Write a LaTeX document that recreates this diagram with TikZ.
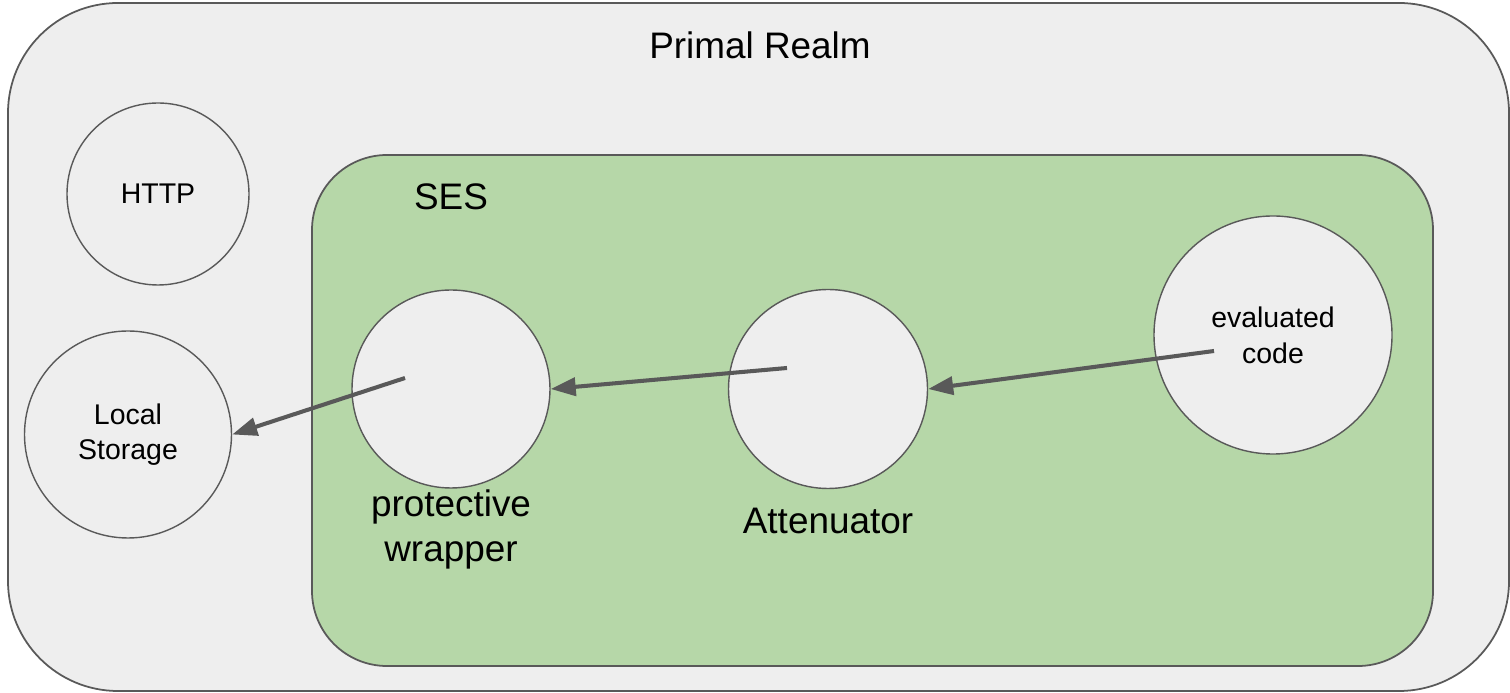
\documentclass[tikz,border=0pt]{standalone}
\usepackage{fontspec}
\setmainfont{Liberation Sans}
\usetikzlibrary{arrows.meta}
\usepackage{xcolor}
\definecolor{realmgray}{HTML}{EEEEEE}
\definecolor{sesgreen}{HTML}{B6D7A8}
\definecolor{edgegray}{HTML}{595959}

\begin{document}
\begin{tikzpicture}[
  realm/.style={draw=edgegray, line width=1pt, fill=realmgray, rounded corners=2.2cm, minimum width=30.02cm, minimum height=13.76cm},
  sandbox/.style={draw=edgegray, line width=1pt, fill=sesgreen, rounded corners=1.5cm, minimum width=22.42cm, minimum height=10.22cm},
  obj/.style={circle, draw=edgegray, line width=0.8pt, fill=realmgray, inner sep=0pt, align=center, font=\fontsize{16.2}{20.3}\selectfont},
  bigtxt/.style={align=center, font=\fontsize{21}{25.6}\selectfont},
  flow/.style={-{Triangle[length=0.5cm, width=0.36cm]}, draw=edgegray, line width=2.3pt}
]
  \useasboundingbox (0,0) rectangle (30.2,13.86);

  \node[realm] (primal) at (15.17,6.92) {};
  \node[bigtxt] (primallbl) at (15.2,12.96) {Primal Realm};
  \node[sandbox] (ses) at (17.45,5.65) {};
  \node[bigtxt] (seslbl) at (9.02,9.92) {SES};

  \node[obj, minimum size=3.64cm] (http) at (3.16,9.98) {HTTP};
  \node[obj, minimum size=4.14cm] (storage) at (2.56,5.17) {Local\\Storage};
  \node[obj, minimum size=3.96cm] (wrapper) at (9.02,6.08) {};
  \node[bigtxt] (wrapperlbl) at (9.02,3.27) {protective\\wrapper};
  \node[obj, minimum size=3.98cm] (atten) at (16.56,6.08) {};
  \node[bigtxt] (attenlbl) at (16.56,3.44) {Attenuator};
  \node[obj, minimum size=4.76cm] (evalcode) at (25.46,7.16) {evaluated\\code};

  \draw[flow] ([shift={(-1.18,-0.32)}]evalcode.center) -- (atten.east);
  \draw[flow] ([shift={(-0.82,0.42)}]atten.center) -- (wrapper.east);
  \draw[flow] ([shift={(-0.92,0.22)}]wrapper.center) -- (storage.east);
\end{tikzpicture}
\end{document}
